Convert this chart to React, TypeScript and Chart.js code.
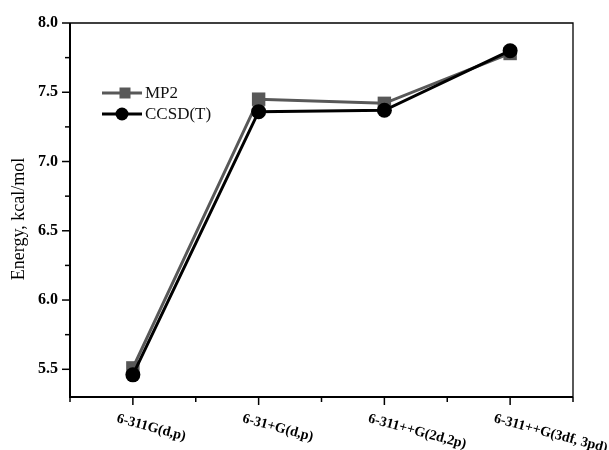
import React, { useEffect, useRef } from 'react';
import { Chart, registerables } from 'chart.js';

Chart.register(...registerables);

const categories = ['6-311G(d,p)', '6-31+G(d,p)', '6-311++G(2d,2p)', '6-311++G(3df, 3pd)'];
const mp2Values = [5.51, 7.45, 7.42, 7.78];
const ccsdtValues = [5.46, 7.36, 7.37, 7.80];
const yMajorTicks = [5.5, 6.0, 6.5, 7.0, 7.5, 8.0];
const seriesNames = ['MP2', 'CCSD(T)'];
const yTitle = 'Energy, kcal/mol';

const SERIF = '"Liberation Serif", "Times New Roman", serif';
const MP2_COLOR = '#585858';
const CCSD_COLOR = '#000000';

const framePlugin = {
  id: 'framePlugin',
  afterDraw(chart: any) {
    const { ctx, chartArea } = chart;
    const { left, right, top, bottom } = chartArea;
    const xs = chart.scales.x;
    const ys = chart.scales.y;
    ctx.save();
    // frame
    ctx.strokeStyle = '#000';
    ctx.lineWidth = 1.3;
    ctx.beginPath();
    ctx.moveTo(left, top);
    ctx.lineTo(right, top);
    ctx.lineTo(right, bottom);
    ctx.stroke();
    ctx.lineWidth = 2;
    ctx.beginPath();
    ctx.moveTo(left, top);
    ctx.lineTo(left, bottom);
    ctx.lineTo(right, bottom);
    ctx.stroke();
    // y ticks
    ctx.lineWidth = 1.5;
    for (let v = 5.5; v <= 8.0001; v += 0.25) {
      const y = ys.getPixelForValue(v);
      const major = Math.abs(v * 2 - Math.round(v * 2)) < 1e-6;
      ctx.beginPath();
      ctx.moveTo(left, y);
      ctx.lineTo(left - (major ? 8 : 5), y);
      ctx.stroke();
    }
    // x ticks
    for (let v = -0.5; v <= categories.length - 0.5 + 1e-6; v += 0.5) {
      const x = xs.getPixelForValue(v);
      const major = Math.abs(v - Math.round(v)) < 1e-6;
      ctx.beginPath();
      ctx.moveTo(x, bottom);
      ctx.lineTo(x, bottom + (major ? 8 : 5));
      ctx.stroke();
    }
    // x labels (rotated clockwise)
    ctx.fillStyle = '#000';
    ctx.font = `bold 14px ${SERIF}`;
    ctx.textAlign = 'left';
    ctx.textBaseline = 'alphabetic';
    categories.forEach((c, i) => {
      const x = xs.getPixelForValue(i);
      ctx.save();
      ctx.translate(x - 17, bottom + 25);
      ctx.rotate((15 * Math.PI) / 180);
      ctx.fillText(c, 0, 0);
      ctx.restore();
    });
    // y title
    ctx.save();
    ctx.font = `18px ${SERIF}`;
    ctx.textAlign = 'center';
    ctx.textBaseline = 'middle';
    ctx.translate(19, (top + bottom) / 2 + 9);
    ctx.rotate(-Math.PI / 2);
    ctx.fillText(yTitle, 0, 0);
    ctx.restore();
    // legend
    const rows = [
      { name: seriesNames[0], color: MP2_COLOR, style: 'rect', y: 93 },
      { name: seriesNames[1], color: CCSD_COLOR, style: 'circle', y: 114 },
    ];
    rows.forEach((r) => {
      ctx.strokeStyle = r.color;
      ctx.fillStyle = r.color;
      ctx.lineWidth = 3;
      ctx.beginPath();
      ctx.moveTo(102, r.y);
      ctx.lineTo(142, r.y);
      ctx.stroke();
      if (r.style === 'rect') {
        ctx.fillRect(125 - 5.5, r.y - 5.5, 11, 11);
      } else {
        ctx.beginPath();
        ctx.arc(122, r.y, 6.5, 0, Math.PI * 2);
        ctx.fill();
      }
      ctx.fillStyle = '#111';
      ctx.font = `17px ${SERIF}`;
      ctx.textAlign = 'left';
      ctx.textBaseline = 'middle';
      ctx.fillText(r.name, 145, r.y + 1);
    });
    ctx.restore();
  },
};

export default function App() {
  const canvasRef = useRef<HTMLCanvasElement | null>(null);

  useEffect(() => {
    const canvas = canvasRef.current;
    if (!canvas) return;
    const chart = new Chart(canvas, {
      type: 'line',
      data: {
        datasets: [
          {
            label: seriesNames[0],
            data: mp2Values.map((v, i) => ({ x: i, y: v })),
            borderColor: MP2_COLOR,
            backgroundColor: MP2_COLOR,
            borderWidth: 3,
            pointStyle: 'rect',
            pointRadius: 9.5,
            pointBorderWidth: 0,
            order: 2,
          },
          {
            label: seriesNames[1],
            data: ccsdtValues.map((v, i) => ({ x: i, y: v })),
            borderColor: CCSD_COLOR,
            backgroundColor: CCSD_COLOR,
            borderWidth: 3,
            pointStyle: 'circle',
            pointRadius: 7.5,
            pointBorderWidth: 0,
            order: 1,
          },
        ],
      },
      options: {
        responsive: false,
        animation: false,
        clip: false as any,
        layout: { padding: { top: 23, right: 36, left: 0, bottom: 0 } },
        plugins: { legend: { display: false }, tooltip: { enabled: false } },
        scales: {
          x: {
            type: 'linear',
            min: -0.5,
            max: categories.length - 0.5,
            grid: { display: false, drawTicks: false },
            border: { display: false },
            ticks: { display: false },
            afterFit: (s: any) => {
              s.height = 53;
            },
          },
          y: {
            type: 'linear',
            min: 5.3,
            max: 8.0,
            grid: { display: false, drawTicks: false },
            border: { display: false },
            afterBuildTicks: (s: any) => {
              s.ticks = yMajorTicks.map((v) => ({ value: v }));
            },
            ticks: {
              padding: 12,
              color: '#000',
              font: { family: SERIF, size: 16, weight: 'bold' },
              callback: (v: any) => Number(v).toFixed(1),
            },
            afterFit: (s: any) => {
              s.width = 70;
            },
          },
        },
      },
      plugins: [framePlugin],
    } as any);
    return () => chart.destroy();
  }, []);

  return (
    <div style={{ position: 'absolute', left: 0, top: 0, width: 609, height: 450, background: '#fff' }}>
      <canvas ref={canvasRef} width={609} height={450} />
    </div>
  );
}
